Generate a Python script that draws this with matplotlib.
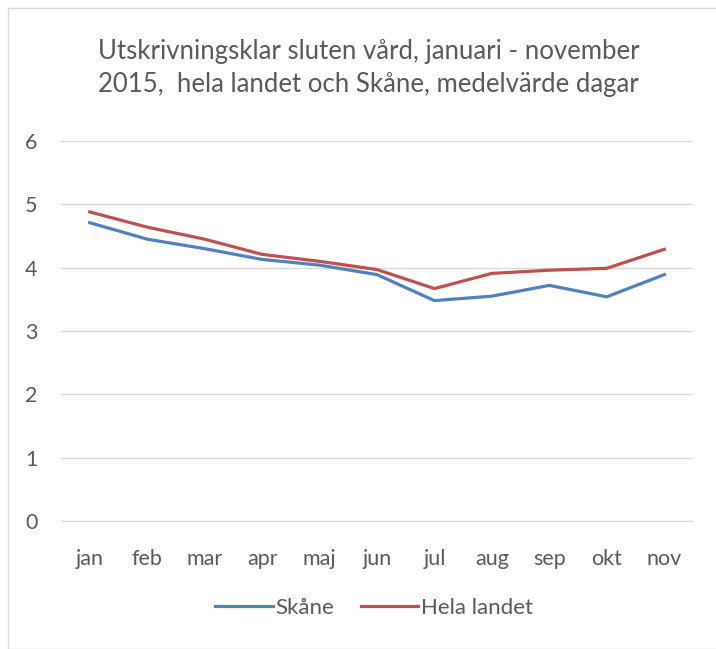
import matplotlib
import matplotlib.pyplot as plt
from matplotlib.patches import Rectangle

matplotlib.use('Agg')

# Data
months = ["jan", "feb", "mar", "apr", "maj", "jun", "jul", "aug", "sep", "okt", "nov"]
skane = [4.71, 4.45, 4.30, 4.13, 4.04, 3.89, 3.48, 3.55, 3.72, 3.54, 3.89]
hela_landet = [4.88, 4.64, 4.45, 4.21, 4.10, 3.97, 3.67, 3.91, 3.96, 3.99, 4.29]
yticks = [0, 1, 2, 3, 4, 5, 6]

TEXT = "#595959"
BLUE = "#4F81BD"
RED = "#C0504D"

plt.rcParams['font.family'] = ['Lato', 'DejaVu Sans']

W, H = 716, 649
fig = plt.figure(figsize=(W / 100, H / 100), dpi=100)

# light chart border
fig.patches.append(Rectangle((8 / W, 0), 1.0, 1 - 8 / H, transform=fig.transFigure,
                             fill=False, edgecolor="#D9D9D9", lw=1.0))

ax = fig.add_axes([61 / W, 1 - 521 / H, 632 / W, 380 / H])
x = range(len(months))
ax.plot(x, skane, color=BLUE, lw=2.3, label="Skåne")
ax.plot(x, hela_landet, color=RED, lw=2.3, label="Hela landet")

ax.set_xlim(-0.5, len(months) - 0.5)
ax.set_ylim(0, 6)
ax.set_yticks(yticks)
ax.set_xticks(list(x))
ax.set_xticklabels(months)
ax.grid(axis='y', color="#D9D9D9", lw=1.0)
ax.set_axisbelow(True)
for side in ["top", "right", "left"]:
    ax.spines[side].set_visible(False)
ax.spines["bottom"].set_color("#D9D9D9")
ax.tick_params(axis='both', length=0, labelsize=15.5, colors=TEXT)
ax.tick_params(axis='x', pad=20)
ax.tick_params(axis='y', pad=17)

fig.text(0.515, 1 - 68 / H,
         "Utskrivningsklar sluten vård, januari - november\n2015,  hela landet och Skåne, medelvärde dagar",
         ha='center', va='center', fontsize=18.5, color=TEXT, linespacing=1.38)

fig.legend(loc='center', bbox_to_anchor=(374 / W, 1 - 608 / H), ncol=2, frameon=False,
           fontsize=16, labelcolor=TEXT, handlelength=2.6, columnspacing=1.2,
           handletextpad=0.1)

fig.savefig("out.png", dpi=100)
